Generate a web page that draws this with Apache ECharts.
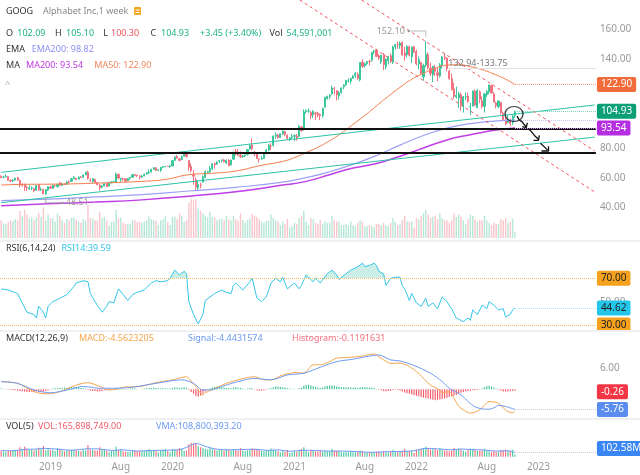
<!DOCTYPE html>
<html><head><meta charset="utf-8">
<script src="https://cdn.jsdelivr.net/npm/echarts@6/dist/echarts.min.js"></script>
<style>html,body{margin:0;padding:0;background:#fff}#c{width:640px;height:475px}</style>
</head><body><div id="c"></div>
<script>
// ---------- DATA (weekly GOOG, split-adjusted) ----------
const startWeek = '2018-08-13';
const weekCount = 254; // axis extends past last candle
const opens = [61.0,60.2,60.6,60.7,58.2,57.8,58.4,59.9,58.2,54.8,
55.0,53.5,52.5,53.0,52.6,51.5,55.3,51.9,51.9,48.9,
51.6,53.9,52.8,54.5,54.0,56.6,54.8,55.6,55.5,57.5,
57.5,59.3,59.5,59.0,60.4,60.3,61.9,63.7,58.4,57.5,
58.8,56.8,55.0,53.6,54.3,56.1,54.3,56.5,57.3,57.1,
62.2,58.9,59.2,59.2,58.0,59.6,60.3,62.0,61.7,61.2,
60.3,61.1,62.5,63.3,63.9,65.6,66.7,65.0,65.0,67.0,
67.5,67.7,67.6,67.9,71.7,74.3,72.8,72.3,74.5,76.0,
71.5,67.6,61.9,58.5,53.0,55.0,57.0,60.2,63.3,64.0,
66.1,69.5,69.2,71.2,71.6,72.0,70.0,71.8,68.6,72.5,
77.5,75.8,75.0,74.1,74.7,75.7,79.3,82.0,77.3,76.5,
72.5,72.5,73.0,76.3,78.7,81.3,81.8,87.9,88.8,87.2,
89.6,91.1,88.6,86.2,87.1,87.9,88.2,87.9,94.3,92.8,
104.7,105.0,104.0,102.5,103.7,103.3,102.6,101.9,107.7,113.5,
114.8,116.7,120.3,118.7,115.3,117.6,121.4,122.7,125.2,125.2,
127.1,128.9,129.7,126.0,137.9,135.8,137.1,138.5,139.3,144.9,
145.9,142.2,138.4,143.0,135.0,139.0,142.3,138.0,148.3,150.2,
149.2,151.4,144.2,143.2,148.4,141.6,148.4,145.1,136.8,137.8,
128.0,136.0,143.1,134.0,129.5,134.0,130.9,128.6,136.0,141.4,
140.8,132.0,127.0,120.0,114.6,113.8,116.0,108.2,114.5,115.1,
107.7,108.6,118.4,107.4,118.0,112.0,108.2,116.0,118.1,122.2,
116.6,110.5,108.0,110.9,103.5,99.0,97.2,98.6,97.2,102.09];
const highs = [61.6,61.3,62.2,60.9,58.8,59.0,60.0,60.6,58.6,56.2,
56.0,54.5,54.8,54.2,52.9,55.0,55.7,53.4,52.6,52.0,
54.3,54.6,55.2,55.3,56.0,57.3,56.5,56.3,57.9,58.1,
59.8,61.2,59.9,60.8,61.0,62.2,64.1,64.8,59.6,59.7,
59.2,57.1,55.6,54.8,56.5,56.3,56.9,57.5,57.9,63.4,
62.8,60.0,60.1,59.6,59.5,60.5,62.5,62.5,62.0,61.5,
61.9,62.8,63.8,65.5,66.0,67.2,66.9,65.7,67.2,67.8,
68.0,68.1,68.4,72.0,74.5,75.2,73.2,75.0,76.5,76.6,
72.0,69.7,65.1,60.2,58.1,56.6,61.5,64.8,64.5,68.0,
69.8,70.3,71.0,71.9,72.3,72.8,72.3,72.5,72.1,77.6,
79.4,79.4,77.7,75.3,75.8,79.4,82.4,86.5,77.8,77.2,
73.0,74.6,76.5,79.5,82.5,83.3,88.6,90.5,89.6,90.0,
91.9,91.6,89.2,87.5,89.5,89.2,89.5,95.7,95.0,106.1,
106.3,106.7,104.9,105.6,104.5,104.5,103.4,107.1,114.6,115.4,
116.4,122.1,121.4,119.1,118.5,121.0,123.1,126.1,127.0,127.6,
129.3,131.3,131.2,138.0,139.9,137.7,138.9,139.7,145.1,146.3,
147.0,143.2,143.0,144.2,140.5,142.3,143.9,149.1,150.3,151.8,
152.0,151.9,148.3,149.5,149.3,148.5,149.1,146.4,142.0,138.3,
137.0,152.1,144.5,137.8,135.6,136.3,134.0,137.4,142.1,143.7,
141.0,132.9,130.5,124.0,121.5,118.0,117.5,115.2,117.6,117.3,
110.5,118.9,119.7,120.0,119.0,114.9,117.0,119.4,122.9,122.9,
117.7,111.4,112.0,111.0,104.6,101.4,102.2,100.0,102.4,105.10];
const lows = [59.6,59.8,60.3,57.9,56.9,57.0,58.0,57.7,53.6,54.1,
51.0,50.9,51.7,51.5,50.2,51.3,51.0,51.0,48.9,48.51,
51.0,52.5,52.6,53.5,53.2,54.5,54.3,55.0,55.4,56.3,
57.5,59.0,58.3,58.8,59.8,60.2,61.7,58.6,57.0,56.5,
56.5,55.0,51.3,52.8,54.1,53.8,54.2,56.2,56.6,56.8,
59.0,57.0,57.8,57.3,57.5,58.6,60.0,61.0,60.4,58.9,
59.9,60.9,62.0,62.6,63.6,65.2,64.4,64.5,63.9,66.7,
67.0,67.3,66.6,67.8,71.4,72.8,71.0,71.9,74.3,73.6,
64.6,63.5,55.3,51.1,51.3,52.7,56.5,59.8,62.5,63.5,
65.1,66.2,68.6,70.0,70.3,70.3,69.1,67.7,68.2,72.3,
75.0,74.6,73.2,73.3,73.9,74.9,79.2,78.3,74.5,72.7,
70.3,72.2,72.7,75.8,77.8,78.6,81.0,86.3,86.2,87.0,
88.7,88.0,85.5,84.6,86.3,84.9,85.0,87.3,91.0,91.8,
103.3,103.9,99.3,100.2,98.9,100.7,98.8,100.5,107.4,112.6,
112.9,115.8,116.2,112.1,112.7,116.7,119.7,122.0,124.3,123.5,
126.9,127.3,126.1,125.0,134.1,134.4,136.0,135.8,138.4,143.3,
141.6,139.4,136.9,132.7,133.2,136.5,137.3,136.7,146.4,147.0,
147.0,142.5,139.1,141.3,141.8,137.4,144.1,135.9,133.1,129.4,
125.5,134.7,133.2,128.6,124.6,128.7,125.0,127.6,133.8,139.4,
131.7,126.2,118.7,113.5,113.4,107.0,105.1,104.0,112.3,110.6,
102.2,108.0,108.2,106.9,110.4,106.9,104.0,114.4,116.3,117.0,
110.9,106.8,107.0,102.5,99.0,95.6,96.9,94.8,95.6,100.30];
const closes = [60.05,60.3,60.9,58.2,57.7,58.3,59.7,58.4,55.0,54.8,
53.6,52.9,53.1,53.1,51.2,54.7,51.8,52.1,49.0,51.9,
53.8,52.9,54.9,54.5,55.5,54.8,55.7,55.5,57.1,57.1,
59.2,60.3,58.7,60.4,60.2,61.8,63.6,59.5,58.2,59.3,
56.7,55.2,53.3,54.3,56.1,54.0,56.6,57.2,57.3,62.5,
59.7,59.4,58.9,57.6,59.4,60.2,62.0,61.5,61.3,60.5,
60.9,62.3,63.3,63.7,65.6,66.7,64.8,65.2,67.0,67.4,
67.5,67.6,68.0,71.5,74.0,73.3,71.7,74.0,76.0,74.3,
67.0,64.9,61.0,53.6,55.5,54.9,60.6,64.2,64.0,66.3,
69.4,68.7,70.5,71.4,71.9,70.7,71.6,68.0,71.9,77.1,
75.8,75.1,74.1,74.7,75.4,79.0,81.7,79.6,76.0,73.0,
72.2,72.9,75.8,78.7,82.1,81.3,88.1,88.9,87.1,89.7,
91.5,89.1,86.6,86.9,87.6,88.4,86.8,94.6,91.8,104.4,
105.2,105.1,101.8,104.9,103.1,102.2,101.8,106.9,114.3,114.9,
115.8,120.5,119.9,115.8,117.3,120.6,122.6,125.7,125.3,127.0,
128.7,130.6,127.0,137.8,135.2,137.0,138.4,138.4,144.5,145.5,
141.9,140.8,142.6,136.5,140.0,141.7,138.6,148.3,149.9,149.9,
150.9,142.8,142.5,148.7,142.8,148.1,144.9,137.0,139.8,130.4,
135.7,143.4,134.1,130.5,135.1,131.9,129.1,136.1,141.5,140.7,
133.7,126.7,119.6,114.9,115.6,116.5,109.3,114.6,114.6,111.4,
107.9,118.5,109.1,119.0,112.9,108.0,116.6,118.2,122.6,117.2,
111.0,108.7,111.8,103.9,99.2,96.2,99.2,96.6,101.48,104.93];
const volumesM = [150,125,120,135,150,145,160,150,230,185,
240,200,165,170,150,175,215,180,260,150,
200,165,170,140,210,190,150,130,160,150,
170,175,155,140,130,160,150,280,170,165,
150,150,225,170,180,150,105,135,140,240,
165,175,130,120,115,120,150,150,135,140,
130,140,150,185,160,155,145,110,150,160,
185,135,110,180,180,160,210,190,140,150,
300,330,320,330,250,230,210,190,175,220,
180,175,150,160,165,150,190,160,150,185,
160,145,210,150,130,155,165,205,190,180,
160,140,130,145,150,200,170,150,140,110,
140,120,160,90,100,130,120,170,190,230,
140,110,170,160,130,120,150,120,140,130,
130,190,150,140,140,110,110,120,110,140,
110,100,130,150,140,100,100,110,100,90,
120,120,110,130,110,100,130,170,140,110,
120,150,190,140,140,140,90,170,160,190,
210,240,200,170,180,190,160,210,170,150,
150,130,150,210,180,200,180,150,120,160,
200,190,160,140,150,150,190,150,130,110,
130,120,120,160,150,170,130,140,165,55];
// moving averages: [week index, value]
const ma50Pts = [[0,55],[10,55.5],[20,55.6],[30,55.8],[40,56.3],[50,56.8],[60,57.5],[70,58.8],[80,62],[90,63],[100,64.5],[110,68],[120,71],[125,73.5],[130,77],[135,80.5],[140,85],[145,90],[150,96],[155,102],[160,108.5],[165,115],[170,121],[175,126.5],[180,130.5],[185,134],[190,136],[195,136.3],[200,135],[205,133],[210,130],[215,126.5],[219,122.9]];
const ema200Pts = [[0,44.5],[20,45.5],[40,47],[60,48.5],[80,51],[100,53.5],[120,57],[130,60],[140,64],[150,69],[160,75],[170,82],[180,88.5],[190,93.5],[200,96.5],[210,98.2],[219,98.82]];
const ma200Pts = [[0,41],[20,42.3],[40,43.5],[60,45],[80,47.5],[100,50.5],[120,55],[130,57.5],[140,62],[150,66.5],[160,69.5],[170,74.5],[180,80],[190,85.5],[200,89],[210,92],[219,93.54]];
const rsiPts = [[0,61],[3,60],[7,57],[9,49],[11,41],[14,39],[15,36],[16,46],[18,41],[19,36],[20,46],[22,50],[25,53],[28,56],[31,63],[32,66],[35,68],[37,67],[38,57],[40,50],[43,41],[45,46],[46,50],[48,49],[50,61],[52,56],[54,51],[56,56],[58,58],[61,60],[64,66],[66,68],[68,67],[71,68],[72,70],[74,77],[76,73],[78,76],[79,74],[80,50],[82,39],[84,31],[86,39],[87,51],[91,57],[94,60],[96,58],[98,57],[99,64],[100,66],[103,60],[106,67],[107,70],[109,53],[111,50],[113,54],[115,66],[117,70],[119,67],[120,71],[122,61],[125,66],[127,61],[128,64],[130,73],[133,67],[134,70],[136,66],[139,74],[141,77],[143,73],[144,69],[147,74],[149,77],[152,80],[154,83],[155,80],[157,81],[159,83],[160,81],[161,76],[163,74],[164,64],[166,70],[168,71],[170,71],[171,63],[172,61],[174,51],[175,57],[177,49],[179,46],[181,53],[182,46],[184,49],[186,44],[188,54],[190,50],[192,44],[194,36],[195,35],[197,33],[199,36],[200,34],[201,43],[203,39],[205,47],[207,44],[208,50],[210,47],[212,43],[214,44],[215,37],[217,39],[218,43],[219,44.62]];
const macdPts = [[0,2.2],[7,1.7],[14,-0.7],[19,-1.3],[25,-0.7],[32,1.2],[37,1.9],[42,0.8],[46,-0.2],[49,0],[52,0.6],[59,0.8],[66,1.9],[73,2.7],[79,3.6],[80,3.1],[83,0.8],[86,-1.6],[87,-1.0],[93,0.8],[96,1.7],[101,2.7],[108,3.6],[112,2.7],[115,2.7],[120,4.1],[126,4.8],[129,4.6],[133,7.0],[136,7.0],[140,7.9],[143,8.9],[148,9.1],[154,9.5],[159,10.1],[161,9.3],[163,8.4],[166,7.4],[170,7.5],[174,6.5],[178,4.5],[183,1.2],[186,0.2],[188,-0.9],[191,-0.7],[193,-2.5],[195,-4.8],[198,-6.3],[200,-6.8],[202,-6.5],[204,-5.8],[206,-4.6],[208,-3.5],[210,-3.6],[212,-4.0],[214,-5.3],[216,-6.4],[218,-6.7],[219,-6.2]];
const signalPts = [[0,2.2],[7,1.7],[14,-0.2],[21,-1.0],[28,-0.2],[35,0.8],[42,0.3],[49,0.3],[56,0.6],[66,1.7],[77,2.7],[82,1.7],[86,-0.2],[89,-0.2],[94,0.8],[101,2.2],[108,3.1],[115,2.7],[122,4.1],[129,4.6],[136,6.3],[143,7.9],[150,8.6],[157,9.5],[161,9.8],[166,8.4],[170,8.1],[176,6.8],[183,4.6],[188,2.2],[191,0.3],[196,-1.6],[199,-3.5],[202,-5.0],[205,-5.6],[208,-5.7],[210,-5.3],[212,-4.6],[215,-4.9],[219,-5.76]];
const histVals = [0.2,0.1,0.1,-0.1,-0.2,-0.3,-0.3,
-0.4,-0.5,-0.6,-0.7,-0.7,-0.8,-0.7,-0.8,-0.6,-0.7,-0.6,-0.8,-0.5,-0.3,
0.1,0.2,0.3,0.3,0.4,0.4,0.5,0.4,0.5,0.6,0.6,0.5,0.6,0.4,
0.3,0.2,-0.2,-0.4,-0.5,
-0.5,-0.6,-0.6,-0.5,-0.3,-0.3,-0.2,-0.1,-0.1,
0.3,0.2,0.2,0.1,-0.1,0.1,0.2,0.3,0.2,0.1,0.0,0.1,
0.2,0.3,0.3,0.4,0.5,0.4,0.3,0.3,0.3,0.2,0.2,0.2,0.4,0.5,0.5,0.4,0.5,0.6,0.4,
-0.2,-0.8,-1.3,-1.9,-2.1,-1.8,-1.2,-0.6,-0.2,0.3,0.5,
0.7,0.8,0.7,0.6,0.5,0.4,0.4,0.3,0.5,0.6,0.5,0.4,0.2,0.1,0.2,0.4,
0.3,-0.1,-0.3,-0.4,-0.4,-0.3,-0.1,
0.2,0.3,0.6,0.8,0.8,0.7,0.6,0.5,0.3,0.2,0.1,0.1,0.0,0.3,0.4,1.0,
1.2,1.3,1.1,0.9,0.7,0.5,0.4,0.5,0.8,1.0,1.1,1.1,1.0,0.8,0.7,0.6,
0.6,0.6,0.5,0.5,0.5,0.5,0.4,0.6,0.6,0.6,0.5,0.5,0.5,0.4,0.1,
-0.1,-0.3,-0.5,-0.6,-0.5,-0.4,-0.2,-0.1,-0.2,
-0.4,-0.6,-0.9,-1.1,-1.3,-1.5,-1.7,-1.9,-2.0,-2.2,-2.4,-2.5,-2.6,-2.8,-3.0,-3.1,
-3.0,-2.9,-2.8,-2.6,-2.4,-2.2,-2.0,-1.8,-1.6,-1.3,-1.0,-0.8,-0.6,-0.5,
-0.4,-0.3,-0.3,-0.2,-0.1,0.2,0.6,0.9,1.0,0.8,0.5,
0.2,-0.2,-0.4,-0.6,-0.7,-0.6,-0.5,-0.4,-0.4];
const vmaPts = [[0,150],[5,145],[10,175],[15,185],[19,200],[25,175],[30,155],[37,190],[42,185],[47,150],[52,165],[58,135],[64,150],[70,155],[76,170],[80,250],[83,320],[86,270],[90,200],[96,165],[102,170],[108,180],[114,150],[118,165],[123,130],[129,155],[134,150],[140,135],[146,135],[152,120],[158,105],[164,120],[170,125],[176,145],[181,200],[186,190],[192,165],[196,185],[201,170],[206,160],[211,135],[216,145],[219,100]];
// drawn trend lines: [week index, price]
const upperTeal = [[0,63.6],[253,109.1]];
const lowerTeal = [[0,43.1],[253,87.4]];
const redDash1 = [[127.3,180],[253,50.3]];
const redDash2 = [[153.7,180],[253,78]];
const blackLevels = [92.8, 76.7];
const gapLevel = {from:190.6, value:133.75, text:'132.94-133.75'};
const sketchCircle = [218.6, 103.0];
const sketchStrokes = [
  [[219.9,101.6],[220.8,99.0],[222.1,97.7],[223.0,95.7],[223.8,94.4]],
  [[222.1,94.4],[223.8,93.8],[224.3,97.0]],
  [[224.7,93.1],[226.0,91.1],[227.3,88.5],[229.0,85.9]],
  [[226.9,85.2],[229.0,85.2],[229.4,88.5]],
  [[229.9,83.2],[231.2,81.3],[232.9,78.6]],
  [[230.3,78.0],[233.3,78.0],[233.3,81.3]]
];
const priceTicks = [40,60,80,140,160];
const highMark = {idx:181, value:152.10};
const lowMark = {idx:19, value:48.51};

// ---------- BUILD ----------
const F = '"Noto Sans", "Open Sans", sans-serif';
const UP = '#3cc69c', DN = '#f47280';
const weeks = [];
for (let k = 0; k < weekCount; k++) {
  const d = new Date(Date.parse(startWeek + 'T00:00:00Z') + k * 7 * 86400000);
  weeks.push(d.toISOString().slice(0, 10));
}
function isTick(v){ const d=new Date(v+'T00:00:00Z'); const m=d.getUTCMonth(); return d.getUTCDate()<=7 && (m===0||m===7); }
function tickText(v){ const d=new Date(v+'T00:00:00Z'); return d.getUTCMonth()===0 ? String(d.getUTCFullYear()) : 'Aug'; }

const GL = -1, GW = 596.9;
const grids = [
  {left:GL, width:GW, top:-7.1, height:273.6},
  {left:GL, width:GW, top:198, height:40},
  {left:GL, width:GW, top:243.3, height:93.4},
  {left:GL, width:GW, top:347.3, height:70},
  {left:GL, width:GW, top:438, height:18.7}
];
const xAxes = [];
for (let g = 0; g < 5; g++) {
  xAxes.push({type:'category', gridIndex:g, data:weeks, boundaryGap:true,
    axisLine:{show:false}, axisTick:{show:false}, splitLine:{show:false},
    axisLabel: g===4 ? {show:true, interval:(i,v)=>isTick(v), formatter:(v)=>tickText(v), color:'#9a9a9a', fontSize:10, fontFamily:F, margin:5} : {show:false}});
}
for (let g = 0; g < 5; g++) xAxes.push({type:'value', gridIndex:g, min:-0.5, max:weekCount-0.5, show:false});

const yBase = {position:'right', axisLine:{show:false}, axisTick:{show:false}, splitLine:{show:false}};
const yAxes = [
  Object.assign({gridIndex:0, min:0, max:180, interval:20, axisLabel:{formatter:v=>priceTicks.includes(v)?v.toFixed(2):'', color:'#9a9a9a', fontSize:10, fontFamily:F, margin:4, align:'left'}}, yBase),
  {gridIndex:1, min:0, max:340, show:false},
  Object.assign({gridIndex:2, min:20, max:100, interval:10, axisLabel:{formatter:v=>v===50?'50.00':'', color:'#9a9a9a', fontSize:10, fontFamily:F, margin:4, align:'left'}}, yBase),
  Object.assign({gridIndex:3, min:-8, max:12, interval:2, axisLabel:{formatter:v=>v===6?'6.00':'', color:'#9a9a9a', fontSize:10, fontFamily:F, margin:4, align:'left'}}, yBase),
  {gridIndex:4, min:0, max:450, show:false}
];

function box(text, bg, fg){ return {show:true, position:'end', formatter:text, color:fg, backgroundColor:bg, padding:[3,4,2,4], borderRadius:2, fontSize:10, fontFamily:F, distance:1}; }
function tailLine(x0, x1, v, color, label){
  const a = {coord:[x0,v], lineStyle:{color:color, width:1, type:'dotted'}};
  a.label = label || {show:false};
  return [a, {coord:[x1,v]}];
}
const END = weekCount - 0.5;
const last = closes.length - 1;

const candleData = closes.map((c,k)=>[opens[k], c, lows[k], highs[k]]);
const volMain = volumesM.map((v,k)=>({value:v, itemStyle:{color: closes[k]>=opens[k] ? '#b7e7d7' : '#fac6cc'}}));
const volPanel = volumesM.map((v,k)=>({value:v, itemStyle:{color: closes[k]>=opens[k] ? '#4cc9a0' : '#f4707d'}}));
const histData = histVals.map(v=>({value:v, itemStyle:{color: v>=0 ? '#43c497' : '#f45b6b'}}));

function lineS(xi, yi, data, color, width, extra){
  return Object.assign({type:'line', xAxisIndex:xi, yAxisIndex:yi, data:data, showSymbol:false, symbol:'none', silent:true,
    lineStyle:{color:color, width:width}, z:3}, extra||{});
}

const series = [
  {type:'candlestick', xAxisIndex:0, yAxisIndex:0, data:candleData, barWidth:'70%', z:2,
   itemStyle:{color:UP, color0:DN, borderColor:UP, borderColor0:DN, borderWidth:1},
   markLine:{symbol:['none','none'], silent:true, animation:false, label:{show:false},
     lineStyle:{color:'#111', width:2, type:'solid'},
     data: blackLevels.map(v=>({yAxis:v}))}},
  {type:'bar', xAxisIndex:1, yAxisIndex:1, data:volMain, barWidth:'60%', silent:true, z:1},
  lineS(5,0,ma50Pts,'#f37b48',1,{smooth:true, markLine:{symbol:['none','none'], silent:true,
     data:[tailLine(last, END, 122.90, '#f39a74', box('122.90','#f26b3a','#fff'))]}}),
  lineS(5,0,ema200Pts,'#9d9ff5',1.2,{smooth:true, markLine:{symbol:['none','none'], silent:true,
     data:[tailLine(last, END, 98.82, '#c4c5f8'), tailLine(last, END, 104.93, '#7fd4b9', box('104.93','#0b9f76','#fff'))]}}),
  lineS(5,0,ma200Pts,'#c03ee6',1.5,{smooth:true, markLine:{symbol:['none','none'], silent:true,
     data:[tailLine(last, END, 93.54, '#df95f2', box('93.54','#b52ee0','#fff'))]}}),
  lineS(5,0,upperTeal,'#2cc4a6',1),
  lineS(5,0,lowerTeal,'#2cc4a6',1),
  lineS(5,0,redDash1,'#f2505d',1,{lineStyle:{color:'#f2505d', width:1, type:[3,3]}}),
  lineS(5,0,redDash2,'#f2505d',1,{lineStyle:{color:'#f2505d', width:1, type:[3,3]}}),
  lineS(5,0,[[gapLevel.from,gapLevel.value],[END,gapLevel.value]],'#e2e2e2',1),
  {type:'scatter', xAxisIndex:5, yAxisIndex:0, data:[sketchCircle], symbol:'circle', symbolSize:[18,15], silent:true, z:6,
   itemStyle:{color:'rgba(0,0,0,0)', borderColor:'#111', borderWidth:1.3}}
];
sketchStrokes.forEach(s=>series.push(lineS(5,0,s,'#111',1.3,{z:6})));
// RSI
series.push(lineS(7,2,rsiPts,'#33c6ea',1,{z:4, markLine:{symbol:['none','none'], silent:true,
  data:[
    {yAxis:70, lineStyle:{color:'#f7b866', width:1, type:'dotted'}, label:box('70.00','#f6a21e','#222')},
    {yAxis:30, lineStyle:{color:'#f7b866', width:1, type:'dotted'}, label:box('30.00','#f6a21e','#222')},
    tailLine(last, END, 44.62, '#a6e6f5', box('44.62','#22c7e9','#222'))
  ]}}));
const rsiFillIdx = series.length;
series.push({type:'line', xAxisIndex:7, yAxisIndex:2, data:rsiPts, showSymbol:false, symbol:'none', silent:true, z:3,
  lineStyle:{width:0, opacity:0}, areaStyle:{opacity:1}});
// MACD
series.push({type:'bar', xAxisIndex:3, yAxisIndex:3, data:histData, barWidth:'50%', silent:true, z:2});
series.push(lineS(8,3,macdPts,'#f6a54e',1,{smooth:0.3}));
series.push(lineS(8,3,signalPts,'#6f9cf2',1,{smooth:0.3, markLine:{symbol:['none','none'], silent:true,
  data:[tailLine(last, END, -5.76, '#c5cbe0', box('-5.76','#5b8def','#fff')),
        [{coord:[END-1,-0.69], lineStyle:{color:'rgba(0,0,0,0)', width:1}, label:box('-0.26','#f23645','#fff')},{coord:[END,-0.69]}]]}}));
// VOL panel
series.push({type:'bar', xAxisIndex:4, yAxisIndex:4, data:volPanel, barWidth:'50%', silent:true, z:2});
series.push(lineS(9,4,vmaPts,'#6f9cf2',1,{smooth:0.3, markLine:{symbol:['none','none'], silent:true,
  data:[[{coord:[last,100], lineStyle:{color:'#c5cbe0', width:1, type:'dotted'}, label:Object.assign(box('102.58M','#3a86f3','#fff'),{offset:[0,-4]})},{coord:[END,100]}]]}}));

function txt(x, y, text, fill, align){
  return {type:'text', x:x, y:y, z:50, silent:true,
    style:{text:text, fill:fill, fontSize:9, fontFamily:F, verticalAlign:'middle', align:align||'left'}};
}
const DK = '#333', G = '#1fb28a', R = '#f2545f';
const headerGraphics = [
  txt(6,11,'GOOG',DK), txt(43,11,'Alphabet Inc,1 week','#8a8a8a'),
  {type:'rect', z:50, shape:{x:134,y:7,width:7,height:8,r:1}, style:{fill:'#f5a524'}},
  {type:'rect', z:51, shape:{x:135.5,y:9.5,width:4,height:1}, style:{fill:'#fff'}},
  {type:'rect', z:51, shape:{x:135.5,y:12,width:4,height:1}, style:{fill:'#fff'}},
  txt(6,33.5,'O',DK), txt(17.3,33.5,'102.09',G), txt(55,33.5,'H',DK), txt(66,33.5,'105.10',G),
  txt(103.3,33.5,'L',DK), txt(111,33.5,'100.30',R), txt(150.5,33.5,'C',DK), txt(161,33.5,'104.93',G),
  txt(200,33.5,'+3.45 (+3.40%)',G), txt(269.5,33.5,'Vol',DK), txt(286.5,33.5,'54,591,001',G),
  txt(6,49.3,'EMA',DK), txt(31.7,49.3,'EMA200: 98.82','#8f8ff2'),
  txt(6,65,'MA',DK), txt(26,65,'MA200: 93.54','#c238e0'), txt(94.3,65,'MA50: 122.90','#f2875f'),
  txt(5,84,'^','#aaa'),
  txt(6,248.5,'RSI(6,14,24)',DK), txt(61.5,248.5,'RSI14:39.59','#33c6ea'),
  txt(6,338.3,'MACD(12,26,9)',DK), txt(79,338.3,'MACD:-4.5623205','#f5a54a'), txt(188,338.3,'Signal:-4.4431574','#6b9af3'), txt(292,338.3,'Histogram:-0.1191631','#f4707e'),
  txt(6,426.7,'VOL(5)',DK), txt(38,426.7,'VOL:165,898,749.00','#f05a6a'), txt(156,426.7,'VMA:108,800,393.20','#6b9af3'),
  {type:'rect', z:90, shape:{x:580,y:332,width:60,height:5}, style:{fill:'#fff'}},
  {type:'rect', z:95, shape:{x:0,y:240,width:640,height:2}, style:{fill:'#eef0f4'}},
  {type:'rect', z:95, shape:{x:0,y:330,width:640,height:2}, style:{fill:'#eef0f4'}},
  {type:'rect', z:95, shape:{x:0,y:418,width:640,height:2}, style:{fill:'#eef0f4'}}
];

const option = {
  animation:false, backgroundColor:'#fff',
  textStyle:{fontFamily:F},
  grid:grids, xAxis:xAxes, yAxis:yAxes, series:series,
  visualMap:[{type:'piecewise', show:false, seriesIndex:rsiFillIdx, dimension:1,
    pieces:[{gt:70, lte:100, color:'rgba(46,190,160,0.25)'},{gte:0, lte:70, color:'rgba(255,255,255,0)'}]}],
  graphic: headerGraphics
};
const chart = echarts.init(document.getElementById('c'), null, {width:640, height:475});
chart.setOption(option);

// annotations anchored to data through the chart's own scales
const finder = {xAxisIndex:5, yAxisIndex:0};
const hp = chart.convertToPixel(finder, [highMark.idx, highMark.value]);
const lp = chart.convertToPixel(finder, [lowMark.idx, lowMark.value]);
const gp = chart.convertToPixel(finder, [gapLevel.from, gapLevel.value]);
const ann = [
  txt(hp[0]-21, hp[1]-9.5, highMark.value.toFixed(2), '#9a9a9a', 'right'),
  {type:'circle', z:50, shape:{cx:hp[0]-17, cy:hp[1]-10.3, r:1.3}, style:{fill:'#999'}},
  {type:'polyline', z:50, shape:{points:[[hp[0]-15,hp[1]-10.3],[hp[0],hp[1]-10.3],[hp[0],hp[1]-4]]}, style:{stroke:'#aaa', lineWidth:0.8, fill:null}},
  {type:'polyline', z:50, shape:{points:[[lp[0],lp[1]+3],[lp[0],lp[1]+8.2],[lp[0]+17,lp[1]+8.2]]}, style:{stroke:'#999', lineWidth:0.8, fill:null}},
  {type:'circle', z:50, shape:{cx:lp[0]+17, cy:lp[1]+8.2, r:1.1}, style:{fill:'#999'}},
  txt(lp[0]+20, lp[1]+8.2, lowMark.value.toFixed(2), '#9a9a9a'),
  txt(gp[0], gp[1]-5.5, gapLevel.text, '#777')
];
chart.setOption({graphic: headerGraphics.concat(ann)});
</script></body></html>
